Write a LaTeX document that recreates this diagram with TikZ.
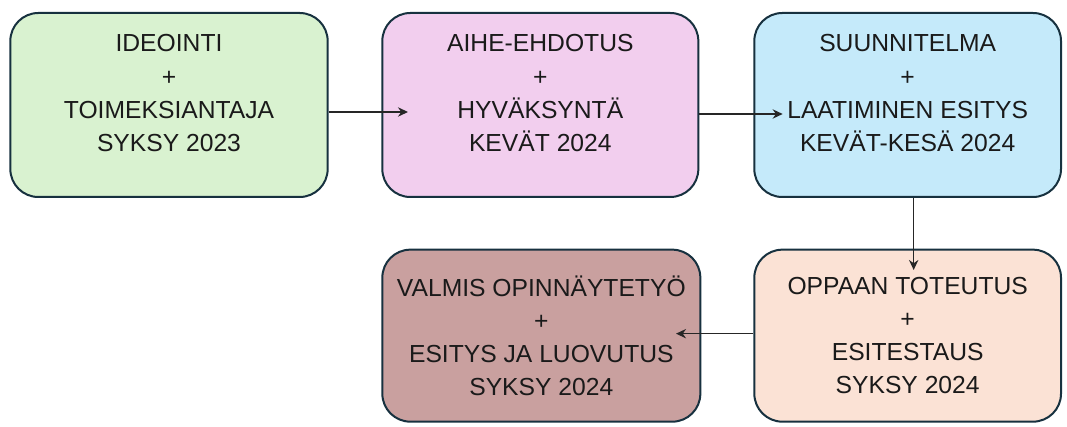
\documentclass[tikz,border=0pt]{standalone}
\usepackage{fontspec}
\setmainfont{Liberation Sans}
\usetikzlibrary{arrows.meta, positioning}
\definecolor{edgecol}{HTML}{17313F}
\definecolor{txtcol}{HTML}{1A1A1A}
\definecolor{idgreen}{HTML}{D9F2D0}
\definecolor{ehpink}{HTML}{F2CEEE}
\definecolor{sublue}{HTML}{C5EAFA}
\definecolor{oppeach}{HTML}{FBE2D5}
\definecolor{vabrown}{HTML}{C9A09F}
\tikzset{
  blk/.style={
    rectangle, draw=edgecol, fill=#1, line width=1.5pt,
    rounded corners=21pt, minimum width=238pt, minimum height=138pt,
    align=center, text=txtcol,
    font=\fontsize{18.5}{24.9}\selectfont
  },
  % lifts the text a little inside the upper boxes
  uptext/.style={execute at end node={\rule[-18pt]{0pt}{18pt}}},
  arr/.style={line width=1.1pt, -{Stealth[length=7.5pt,width=7pt]}, draw=black!85}
}
\begin{document}
\begin{tikzpicture}[node distance=39.5pt]
  \useasboundingbox (0,0) rectangle (800.25pt,-320.25pt);
  \node[blk=idgreen, uptext] (ideo) at (126.75pt,-78.75pt)
    {IDEOINTI\\+\\TOIMEKSIANTAJA\\SYKSY 2023};
  \node[blk=ehpink, uptext, minimum width=237pt, right=of ideo] (aihe)
    {AIHE-EHDOTUS\\+\\HYVÄKSYNTÄ\\KEVÄT 2024};
  \node[blk=sublue, uptext, minimum width=230pt, right=40.5pt of aihe] (sunn)
    {SUUNNITELMA\\+\\LAATIMINEN ESITYS\\KEVÄT-KESÄ 2024};
  \node[blk=oppeach, minimum width=230pt, minimum height=129pt, below=38pt of sunn] (opas)
    {OPPAAN TOTEUTUS\\+\\ESITESTAUS\\SYKSY 2024};
  \node[blk=vabrown, minimum width=238.5pt, minimum height=129pt, left=39pt of opas] (valm)
    {VALMIS OPINNÄYTETYÖ\\+\\ESITYS JA LUOVUTUS\\SYKSY 2024};

  \draw[arr] ([yshift=-5.25pt]ideo.east) -- ([xshift=20pt,yshift=-5.25pt]aihe.west);
  \draw[arr] ([yshift=-6.75pt]aihe.east) -- ([xshift=22pt,yshift=-6.75pt]sunn.west);
  \draw[arr] ([xshift=4.5pt]sunn.south) -- ([xshift=4.5pt,yshift=-16pt]opas.north);
  \draw[arr] ([yshift=1.5pt]opas.west) -- ([xshift=-19pt,yshift=1.5pt]valm.east);
\end{tikzpicture}
\end{document}
